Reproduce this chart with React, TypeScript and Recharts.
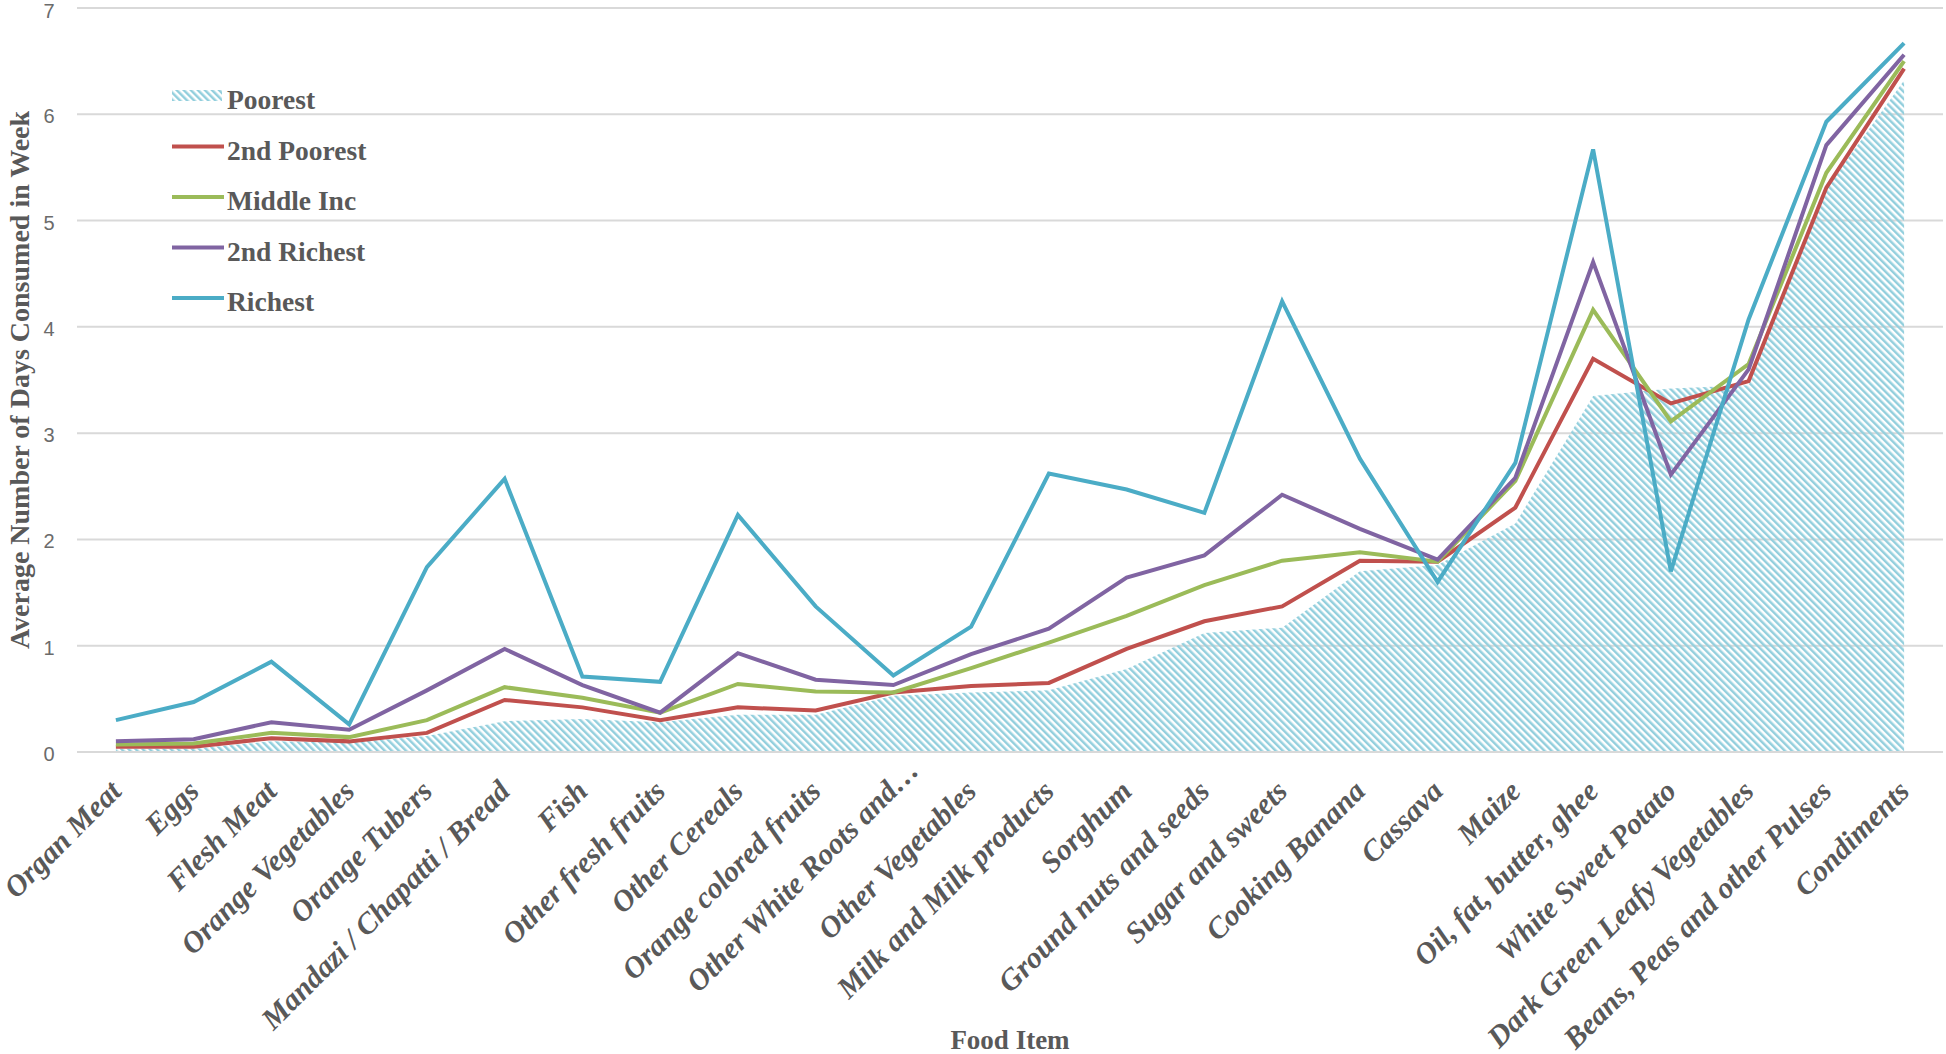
import { ComposedChart, Area, Line, XAxis, YAxis, CartesianGrid, Legend, Label } from 'recharts';

const foodItems = [
  'Organ Meat',
  'Eggs',
  'Flesh Meat',
  'Orange Vegetables',
  'Orange Tubers',
  'Mandazi / Chapatti / Bread',
  'Fish',
  'Other fresh fruits',
  'Other Cereals',
  'Orange colored fruits',
  'Other White Roots and…',
  'Other Vegetables',
  'Milk and Milk products',
  'Sorghum',
  'Ground nuts and seeds',
  'Sugar and sweets',
  'Cooking Banana',
  'Cassava',
  'Maize',
  'Oil, fat, butter, ghee',
  'White Sweet Potato',
  'Dark Green Leafy Vegetables',
  'Beans, Peas and other Pulses',
  'Condiments',
];

const poorest = [0.03, 0.03, 0.1, 0.09, 0.15, 0.29, 0.31, 0.28, 0.35, 0.35, 0.53, 0.56, 0.58, 0.78, 1.12, 1.17, 1.7, 1.76, 2.15, 3.35, 3.42, 3.45, 5.3, 6.32];
const secondPoorest = [0.05, 0.05, 0.13, 0.1, 0.18, 0.49, 0.42, 0.3, 0.42, 0.39, 0.56, 0.62, 0.65, 0.97, 1.23, 1.37, 1.8, 1.79, 2.3, 3.7, 3.28, 3.49, 5.31, 6.43];
const middleInc = [0.07, 0.08, 0.18, 0.14, 0.3, 0.61, 0.51, 0.37, 0.64, 0.57, 0.56, 0.79, 1.03, 1.28, 1.57, 1.8, 1.88, 1.79, 2.55, 4.16, 3.11, 3.65, 5.45, 6.5];
const secondRichest = [0.1, 0.12, 0.28, 0.21, 0.58, 0.97, 0.63, 0.37, 0.93, 0.68, 0.63, 0.92, 1.16, 1.64, 1.85, 2.42, 2.1, 1.81, 2.58, 4.61, 2.61, 3.6, 5.71, 6.56];
const richest = [0.3, 0.47, 0.85, 0.26, 1.74, 2.57, 0.71, 0.66, 2.23, 1.37, 0.72, 1.18, 2.62, 2.47, 2.25, 4.24, 2.76, 1.6, 2.72, 5.67, 1.7, 4.07, 5.93, 6.67];

const yTicks = [0, 1, 2, 3, 4, 5, 6, 7];

const data = foodItems.map((item, i) => ({
  item,
  poorest: poorest[i],
  secondPoorest: secondPoorest[i],
  middleInc: middleInc[i],
  secondRichest: secondRichest[i],
  richest: richest[i],
}));

const lines = [
  { key: 'secondPoorest', name: '2nd Poorest', color: '#c0504d' },
  { key: 'middleInc', name: 'Middle Inc', color: '#9bbb59' },
  { key: 'secondRichest', name: '2nd Richest', color: '#8064a2' },
  { key: 'richest', name: 'Richest', color: '#4bacc6' },
];

const TEXT = '#595959';
const SERIF = '"Liberation Serif", "Times New Roman", serif';
const HATCH = '#93cfdd';

// half of a category band: Excel puts each point in the middle of its slot
const HALF_BAND = 38.9;

const FoodTick = ({ x, y, payload }: any) => {
  // truncated labels sit a bit further up-right in the original
  const cut = String(payload.value).endsWith('…');
  const ax = x + 7 + (cut ? 20 : 0);
  const ay = y + 41 - (cut ? 21 : 0);
  return (
    <text
      x={ax}
      y={ay}
      textAnchor="end"
      transform={`rotate(-45 ${ax} ${ay})`}
      fontFamily={SERIF}
      fontWeight="bold"
      fontStyle="italic"
      fontSize={30}
      fill={TEXT}
    >
      {payload.value}
    </text>
  );
};

const DayTick = ({ y, payload }: any) => (
  <text x={49} y={y + 9} textAnchor="middle" fontFamily='"Liberation Sans", sans-serif' fontSize={20} fill="#6b6b6b">
    {payload.value}
  </text>
);

const LegendBox = () => {
  const rows = ['Poorest', ...lines.map((l) => l.name)];
  return (
    <svg width={420} height={330}>
      <defs>
        <pattern id="hatchLegend" patternUnits="userSpaceOnUse" width={5} height={5} patternTransform="rotate(-45)">
          <rect width={2.5} height={5} fill={HATCH} />
        </pattern>
      </defs>
      {rows.map((name, i) => {
        const cy = 96 + i * 50.5;
        return (
          <g key={name}>
            {i === 0 ? (
              <rect x={172} y={cy - 6} width={50} height={11} fill="url(#hatchLegend)" />
            ) : (
              <line x1={172} x2={224} y1={cy} y2={cy} stroke={lines[i - 1].color} strokeWidth={4} />
            )}
            <text x={227} y={cy + 13} fontFamily={SERIF} fontWeight="bold" fontSize={27.5} fill={TEXT}>
              {name}
            </text>
          </g>
        );
      })}
    </svg>
  );
};

export default function App() {
  return (
    <div style={{ position: 'absolute', left: 0, top: 0, background: '#fff' }}>
      <ComposedChart width={1946} height={1054} data={data} margin={{ top: 8, right: 3, bottom: 0, left: 0 }}>
        <defs>
          <pattern id="hatch" patternUnits="userSpaceOnUse" width={5} height={5} patternTransform="rotate(-45)">
            <rect width={2.5} height={5} fill={HATCH} />
          </pattern>
        </defs>
        <CartesianGrid vertical={false} stroke="#d9d9d9" strokeWidth={2} />
        <XAxis
          dataKey="item"
          interval={0}
          height={302}
          padding={{ left: HALF_BAND, right: HALF_BAND }}
          tickLine={false}
          tickSize={0}
          tickMargin={0}
          axisLine={{ stroke: '#d9d9d9', strokeWidth: 2 }}
          tick={<FoodTick />}
        >
          <Label
            content={() => (
              <text x={1010} y={1049} textAnchor="middle" fontFamily={SERIF} fontWeight="bold" fontSize={27} fill={TEXT}>
                Food Item
              </text>
            )}
          />
        </XAxis>
        <YAxis
          domain={[0, 7]}
          ticks={yTicks}
          width={77}
          tickLine={false}
          axisLine={false}
          tick={<DayTick />}
        >
          <Label
            content={() => (
              <text
                x={29}
                y={380}
                transform="rotate(-90 29 380)"
                textAnchor="middle"
                fontFamily={SERIF}
                fontWeight="bold"
                fontSize={28}
                fill={TEXT}
              >
                Average Number of Days Consumed in Week
              </text>
            )}
          />
        </YAxis>
        <Legend layout="vertical" align="center" verticalAlign="middle" wrapperStyle={{ left: 0, top: 0, width: 420, height: 330 }} content={<LegendBox />} />
        <Area
          type="linear"
          dataKey="poorest"
          name="Poorest"
          fill="url(#hatch)"
          fillOpacity={1}
          stroke="none"
          dot={false}
          activeDot={false}
          isAnimationActive={false}
        />
        {lines.map((l) => (
          <Line
            key={l.key}
            type="linear"
            dataKey={l.key}
            name={l.name}
            stroke={l.color}
            strokeWidth={4}
            dot={false}
            activeDot={false}
            isAnimationActive={false}
          />
        ))}
      </ComposedChart>
    </div>
  );
}
